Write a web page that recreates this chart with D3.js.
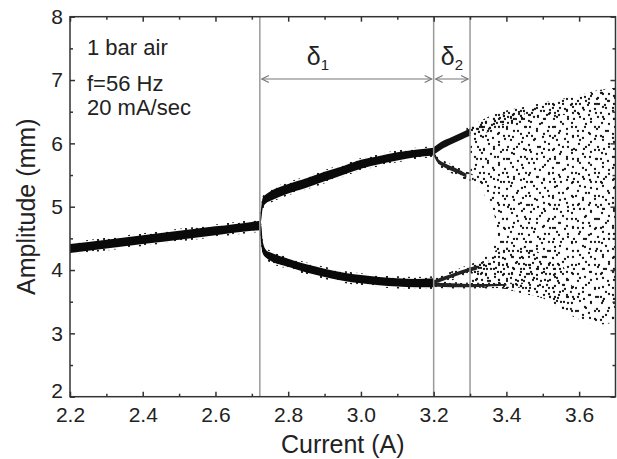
<!DOCTYPE html>
<html><head><meta charset="utf-8">
<script src="https://cdn.jsdelivr.net/npm/d3@7"></script>
<style>body{margin:0;background:#fff}svg{display:block}text{font-family:"Liberation Sans",Arial,sans-serif;fill:#222}</style>
</head><body><svg id="c" width="617" height="459"></svg>
<script>
// ---- data ----
const xTicks = [2.2, 2.4, 2.6, 2.8, 3.0, 3.2, 3.4, 3.6];
const xMinor = [2.3, 2.5, 2.7, 2.9, 3.1, 3.3, 3.5];
const yTicks = [2, 3, 4, 5, 6, 7, 8];
const yMinor = [2.5, 3.5, 4.5, 5.5, 6.5, 7.5];
const markers = [2.722, 3.2, 3.3];
const notes = ["1 bar air", "f=56 Hz", "20 mA/sec"];

// single branch
const mainX  = [2.2, 2.3, 2.4, 2.5, 2.6, 2.7, 2.722];
const mainLo = [4.27, 4.34, 4.41, 4.48, 4.55, 4.62, 4.63];
const mainHi = [4.41, 4.48, 4.55, 4.62, 4.69, 4.76, 4.78];
// period-2 upper branch
const upX  = [2.722, 2.726, 2.73, 2.74, 2.75, 2.8, 2.85, 2.9, 2.95, 3.0, 3.05, 3.1, 3.15, 3.2];
const upLo = [4.66, 4.80, 4.98, 5.06, 5.09, 5.21, 5.30, 5.40, 5.50, 5.60, 5.67, 5.73, 5.78, 5.81];
const upHi = [4.78, 5.00, 5.14, 5.20, 5.24, 5.36, 5.45, 5.55, 5.64, 5.74, 5.80, 5.86, 5.90, 5.93];
// period-2 lower branch
const loX  = [2.722, 2.726, 2.73, 2.74, 2.75, 2.8, 2.85, 2.9, 2.95, 3.0, 3.05, 3.1, 3.15, 3.2];
const loLo = [4.62, 4.40, 4.26, 4.19, 4.15, 4.05, 3.96, 3.89, 3.83, 3.79, 3.76, 3.74, 3.73, 3.73];
const loHi = [4.72, 4.70, 4.45, 4.31, 4.28, 4.18, 4.09, 4.02, 3.96, 3.92, 3.89, 3.87, 3.86, 3.87];
// period-4 strands (spread of the stippled strand)
const p4aX  = [3.2, 3.22, 3.25, 3.28, 3.3];
const p4aLo = [5.82, 5.90, 5.99, 6.07, 6.12];
const p4aHi = [5.94, 6.02, 6.10, 6.18, 6.24];
const p4aTX  = [3.29, 3.33, 3.36, 3.4, 3.45];
const p4aTLo = [6.10, 6.17, 6.23, 6.30, 6.36];
const p4aTHi = [6.26, 6.33, 6.40, 6.47, 6.53];
const p4bX  = [3.2, 3.21, 3.23, 3.26, 3.29, 3.31];
const p4bLo = [5.78, 5.66, 5.58, 5.50, 5.42, 5.38];
const p4bHi = [5.90, 5.80, 5.72, 5.64, 5.56, 5.50];
const p4cX  = [3.2, 3.23, 3.26, 3.29, 3.32, 3.35];
const p4cLo = [3.76, 3.80, 3.86, 3.92, 3.96, 3.98];
const p4cHi = [3.87, 3.94, 4.00, 4.07, 4.12, 4.16];
const p4dX  = [3.2, 3.25, 3.3, 3.35, 3.4, 3.45];
const p4dLo = [3.72, 3.71, 3.71, 3.71, 3.72, 3.72];
const p4dHi = [3.82, 3.81, 3.80, 3.80, 3.80, 3.80];
// period-4 strand cores (darkest part)
const p4bCoreX  = [3.2, 3.21, 3.23, 3.26, 3.29];
const p4bCoreLo = [5.81, 5.70, 5.62, 5.54, 5.46];
const p4bCoreHi = [5.88, 5.77, 5.69, 5.61, 5.52];
const p4cCoreX  = [3.2, 3.23, 3.26, 3.29, 3.32];
const p4cCoreLo = [3.78, 3.84, 3.90, 3.96, 4.01];
const p4cCoreHi = [3.84, 3.90, 3.96, 4.02, 4.07];
const p4dCoreX  = [3.2, 3.25, 3.3, 3.35, 3.4];
const p4dCoreLo = [3.74, 3.73, 3.73, 3.74, 3.75];
const p4dCoreHi = [3.80, 3.79, 3.78, 3.78, 3.78];
// chaotic region outline
const chaosTopX = [3.3, 3.32, 3.35, 3.4, 3.45, 3.5, 3.55, 3.6, 3.65, 3.7];
const chaosTop  = [6.25, 6.33, 6.42, 6.52, 6.58, 6.64, 6.70, 6.76, 6.84, 6.88];
const chaosBotX = [3.3, 3.35, 3.4, 3.45, 3.5, 3.53, 3.57, 3.6, 3.64, 3.68, 3.7];
const chaosBot  = [3.72, 3.72, 3.70, 3.62, 3.56, 3.45, 3.30, 3.22, 3.13, 3.15, 3.2];
const holeX = [3.3, 3.34, 3.36, 3.372, 3.368, 3.355, 3.34, 3.318, 3.3];
const holeY = [4.06, 4.16, 4.26, 4.55, 4.85, 5.05, 5.18, 5.32, 5.45];
// denser parts of the chaotic cloud
const denseLowX  = [3.3, 3.35, 3.4, 3.45, 3.5, 3.55, 3.58];
const denseLowLo = [3.72, 3.71, 3.69, 3.62, 3.55, 3.40, 3.30];
const denseLowHi = [4.08, 4.25, 4.35, 4.35, 4.25, 4.10, 3.80];
const denseTopLo = [6.05, 6.12, 6.18, 6.25, 6.32, 6.38, 6.44, 6.50, 6.56, 6.60];

// ---- drawing ----
const svg = d3.select("#c");
const L = 70, R = 615.5, T = 16.7, B = 396.7;
const x = d3.scaleLinear([2.2, 3.7], [L, R]);
const y = d3.scaleLinear([2, 8], [B, T]);

// stipple textures (styling only)
const defs = svg.append("defs");
function stipple(id, size, dots) {
  const p = defs.append("pattern").attr("id", id).attr("patternUnits", "userSpaceOnUse")
    .attr("width", size).attr("height", size);
  p.selectAll("circle").data(dots).join("circle")
    .attr("cx", d => d[0]).attr("cy", d => d[1]).attr("r", 1.15).attr("fill", "#151515");
}
stipple("sA", 30, [[2,3],[21,2],[15,7],[27,9],[8,11],[19,13],[3,17],[13,18],[25,19],[9,24],[19,25],[28,27],[4,29],[14,29]]);
stipple("sB", 23, [[5,2],[16,4],[11,9],[1,12],[20,12],[8,16],[15,19],[3,21],[21,21]]);
stipple("sC", 17, [[2,2],[10,3],[6,8],[14,9],[3,13],[11,14]]);
stipple("sD", 11, [[2,2],[8,4],[5,8],[10,9]]);

const zip = (xs, lo, hi) => xs.map((v, i) => [v, lo[i], hi[i]]);
const area = d3.area().x(d => x(d[0])).y0(d => y(d[1])).y1(d => y(d[2])).curve(d3.curveMonotoneX);
const widen = (xs, lo, hi, w) => zip(xs, lo.map(v => v - w), hi.map(v => v + w));

const gData = svg.append("g");
const fillWith = (d, pats) => pats.forEach(p => gData.append("path").attr("d", d).attr("fill", `url(#${p})`));
const solid = (xs, lo, hi, c) => gData.append("path").attr("d", area(zip(xs, lo, hi))).attr("fill", c);

// chaotic cloud
const outline = [];
chaosTopX.forEach((v, i) => outline.push([v, chaosTop[i]]));
for (let i = chaosBotX.length - 1; i >= 0; i--) outline.push([chaosBotX[i], chaosBot[i]]);
holeX.forEach((v, i) => outline.push([v, holeY[i]]));
const poly = d3.line().x(d => x(d[0])).y(d => y(d[1])).curve(d3.curveLinearClosed);
fillWith(poly(outline), ["sA", "sB"]);
fillWith(area(zip(denseLowX, denseLowLo, denseLowHi)), ["sC"]);
fillWith(area(zip(chaosTopX, denseTopLo, chaosTop)), ["sC"]);

// period-4 strands
fillWith(area(zip(p4aTX, p4aTLo, p4aTHi)), ["sD", "sC"]);
fillWith(area(zip(p4bX, p4bLo, p4bHi)), ["sD", "sC"]);
fillWith(area(zip(p4cX, p4cLo, p4cHi)), ["sD", "sB"]);
fillWith(area(zip(p4dX, p4dLo, p4dHi)), ["sD", "sC"]);
solid(p4bCoreX, p4bCoreLo, p4bCoreHi, "#222");
solid(p4cCoreX, p4cCoreLo, p4cCoreHi, "#222");
solid(p4dCoreX, p4dCoreLo, p4dCoreHi, "#222");
solid(p4aX, p4aLo, p4aHi, "#111");

// dense branches: ragged halo + solid core
[[mainX, mainLo, mainHi], [upX, upLo, upHi], [loX, loLo, loHi]].forEach(([xs, lo, hi]) => {
  fillWith(area(widen(xs, lo, hi, 0.03)), ["sD"]);
  solid(xs, lo, hi, "#0a0a0a");
});

// vertical marker lines
svg.append("g").selectAll("line").data(markers).join("line")
  .attr("x1", d => x(d)).attr("x2", d => x(d)).attr("y1", T).attr("y2", B)
  .attr("stroke", "#9a9a9a").attr("stroke-width", 1.5);

// delta arrows
const ay = 79;
const arrows = [[markers[0], markers[1]], [markers[1], markers[2]]];
const ga = svg.append("g").attr("stroke", "#777").attr("stroke-width", 1.2).attr("fill", "none");
arrows.forEach(([a, b]) => {
  const x1 = x(a) + 2, x2 = x(b) - 2;
  ga.append("line").attr("x1", x1).attr("x2", x2).attr("y1", ay).attr("y2", ay);
  ga.append("path").attr("d", `M${x1 + 7},${ay - 3.5}L${x1},${ay}L${x1 + 7},${ay + 3.5}`);
  ga.append("path").attr("d", `M${x2 - 7},${ay - 3.5}L${x2},${ay}L${x2 - 7},${ay + 3.5}`);
});
const deltas = [{pos: 318, sub: "1"}, {pos: 452, sub: "2"}];
deltas.forEach(d => {
  const t = svg.append("text").attr("x", d.pos).attr("y", 65).attr("text-anchor", "middle").style("font-size", "25px");
  t.append("tspan").text("δ");
  t.append("tspan").attr("dy", 5).style("font-size", "15px").text(d.sub);
});

// notes
const noteY = [55, 90.5, 115];
svg.append("g").selectAll("text").data(notes).join("text")
  .attr("x", 87).attr("y", (d, i) => noteY[i]).style("font-size", "22px").text(d => d);

// axes
const fmt = d3.format(".1f");
const tickStyle = g => { g.select(".domain").remove(); g.selectAll("line").attr("stroke", "#333").attr("stroke-width", 1.5); g.selectAll("text").style("font-size", "21px").attr("fill", "#222").style("font-family", "'Liberation Sans',Arial,sans-serif"); };
svg.append("g").attr("transform", `translate(0,${B})`).call(d3.axisBottom(x).tickValues(xTicks).tickFormat(fmt).tickSize(-5).tickPadding(10)).call(tickStyle);
svg.append("g").attr("transform", `translate(0,${B})`).call(d3.axisBottom(x).tickValues(xMinor).tickFormat("").tickSize(-3)).call(tickStyle);
svg.append("g").attr("transform", `translate(0,${T})`).call(d3.axisTop(x).tickValues(xTicks).tickFormat("").tickSize(-5)).call(tickStyle);
svg.append("g").attr("transform", `translate(0,${T})`).call(d3.axisTop(x).tickValues(xMinor).tickFormat("").tickSize(-3)).call(tickStyle);
const yAx = svg.append("g").attr("transform", `translate(${L},0)`).call(d3.axisLeft(y).tickValues(yTicks).tickFormat(d3.format("d")).tickSize(-5).tickPadding(7)).call(tickStyle);
yAx.selectAll(".tick").filter(d => d === 2).select("text").attr("dy", "0.05em");
svg.append("g").attr("transform", `translate(${L},0)`).call(d3.axisLeft(y).tickValues(yMinor).tickFormat("").tickSize(-3)).call(tickStyle);
svg.append("g").attr("transform", `translate(${R},0)`).call(d3.axisRight(y).tickValues(yTicks).tickFormat("").tickSize(-5)).call(tickStyle);
svg.append("g").attr("transform", `translate(${R},0)`).call(d3.axisRight(y).tickValues(yMinor).tickFormat("").tickSize(-3)).call(tickStyle);

svg.append("rect").attr("x", L).attr("y", T).attr("width", R - L).attr("height", B - T)
  .attr("fill", "none").attr("stroke", "#333").attr("stroke-width", 1.5);

svg.append("text").attr("x", (L + R) / 2).attr("y", 453).attr("text-anchor", "middle").style("font-size", "25px").text("Current (A)");
svg.append("text").attr("transform", `translate(35,${(T + B) / 2}) rotate(-90)`).attr("text-anchor", "middle").style("font-size", "25px").text("Amplitude (mm)");
</script></body></html>
